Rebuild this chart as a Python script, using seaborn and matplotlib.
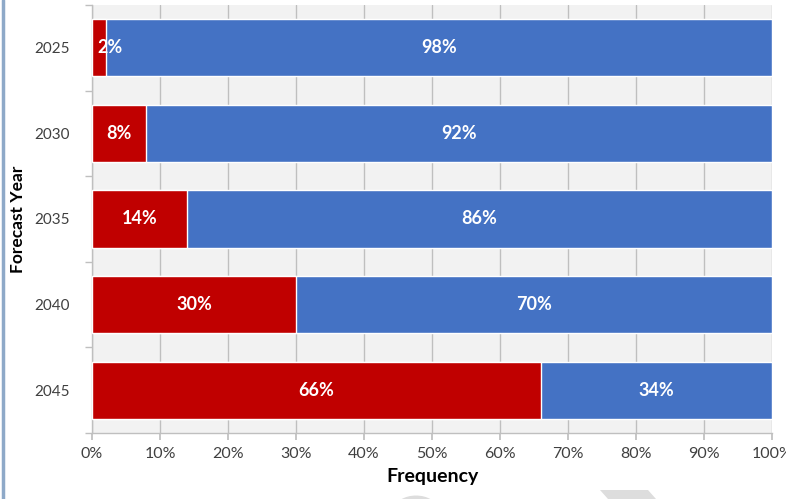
import matplotlib
matplotlib.use("Agg")
import matplotlib.pyplot as plt
from matplotlib.patches import Polygon, Circle
import seaborn as sns
import pandas as pd

# Share of forecasts per year (percent)
years = ["2025", "2030", "2035", "2040", "2045"]
red_share = [2, 8, 14, 30, 66]
blue_share = [98, 92, 86, 70, 34]
x_ticks = [0, 10, 20, 30, 40, 50, 60, 70, 80, 90, 100]

RED = "#C00000"
BLUE = "#4472C4"

sns.set_theme(style="white")
plt.rcParams["font.family"] = ["Lato", "DejaVu Sans"]

df = pd.DataFrame({"year": years, "red": red_share, "blue": blue_share})
df["total"] = df["red"] + df["blue"]

fig = plt.figure(figsize=(7.86, 4.99), dpi=100)
ax = fig.add_axes([92 / 786, 1 - 433 / 499, 680 / 786, 428 / 499])
ax.set_facecolor("#F2F2F2")

# Stacked bars: full-length blue underneath, red share on top
sns.barplot(data=df, y="year", x="total", orient="h", color=BLUE,
            width=0.67, saturation=1, ax=ax, zorder=2)
sns.barplot(data=df, y="year", x="red", orient="h", color=RED,
            width=0.67, saturation=1, ax=ax, zorder=3)

for i, (r, b) in enumerate(zip(red_share, blue_share)):
    ax.text(max(r / 2, 2.7), i, f"{r}%", color="white", fontsize=13,
            fontweight="bold", ha="center", va="center", zorder=4)
    ax.text(r + b / 2, i, f"{b}%", color="white", fontsize=13,
            fontweight="bold", ha="center", va="center", zorder=4)

ax.set_xlim(0, 100)
ax.set_ylim(4.5, -0.5)
ax.set_xticks(x_ticks)
ax.set_xticklabels([f"{t}%" for t in x_ticks], fontsize=11.5, color="#404040")
ax.xaxis.grid(True, color="#BFBFBF", linewidth=1, zorder=1)
ax.set_axisbelow(True)

# Category labels centred, tick marks on the category boundaries
ax.set_yticks(range(len(years)))
ax.set_yticklabels(years, fontsize=11, color="#404040")
ax.tick_params(axis="y", length=0, pad=16)
ax.set_yticks([k - 0.5 for k in range(len(years) + 1)], minor=True)
ax.tick_params(axis="y", which="minor", length=5, color="#BFBFBF", direction="out", left=True)
ax.tick_params(axis="x", length=5, color="#BFBFBF", direction="out", bottom=True, pad=5)

for side in ["top", "right"]:
    ax.spines[side].set_visible(False)
for side in ["left", "bottom"]:
    ax.spines[side].set_color("#BFBFBF")
    ax.spines[side].set_linewidth(1)

ax.set_xlabel("Frequency", fontsize=14, fontweight="bold", color="black", labelpad=5)
ax.set_ylabel("Forecast Year", fontsize=12.5, fontweight="bold", color="black", labelpad=0)
ax.yaxis.set_label_coords(-0.097, 0.5)

# Frame line along the left edge of the figure
fig.add_artist(plt.Line2D([3 / 786, 3 / 786], [0, 1], transform=fig.transFigure,
                          color="#8EA9C8", linewidth=2.5))

# Faint decorative shapes along the bottom edge
fig.add_artist(Polygon([(600 / 786, 1 - 490 / 499), (648 / 786, 1 - 490 / 499),
                        (656 / 786, 0), (608 / 786, 0)],
                       closed=True, transform=fig.transFigure,
                       facecolor="#DDDDDD", edgecolor="none"))
fig.add_artist(Circle((416 / 786, -10 / 499), radius=0.027, transform=fig.transFigure,
                      facecolor="#DDDDDD", edgecolor="none"))

fig.savefig("out.png", dpi=100)
